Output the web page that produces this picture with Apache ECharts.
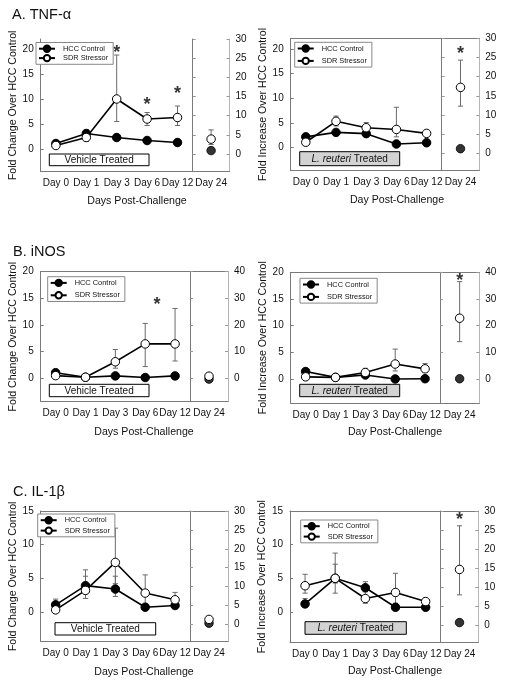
<!DOCTYPE html>
<html><head><meta charset="utf-8">
<script src="https://cdn.jsdelivr.net/npm/echarts@6/dist/echarts.min.js"></script>
<style>html,body{margin:0;padding:0;background:#fff}#c{width:508px;height:687px}</style>
</head><body><div id="c"></div>
<script>
// ---------- categories & tick labels ----------
const mainDays = ['Day 0', 'Day 1', 'Day 3', 'Day 6', 'Day 12'];
const sideDays = ['Day 24'];
const tnfTicksLeft = [0, 5, 10, 15, 20];
const tnfTicksRight = [0, 5, 10, 15, 20, 25, 30];
const inosTicksLeft = [0, 5, 10, 15, 20];
const inosTicksRight = [0, 10, 20, 30, 40];
const il1bTicksLeft = [0, 5, 10, 15];
const il1bTicksRight = [0, 5, 10, 15, 20, 25, 30];

// ---------- A. TNF-α, Vehicle treated ----------
const tnfVehHcc = [1.1, 3.1, 2.3, 1.7, 1.3];
const tnfVehHccErr = [[0.8, 1.4], [2.7, 3.6], [2.0, 2.6], [1.4, 2.0], [1.1, 1.5]];
const tnfVehSdr = [0.7, 2.3, 10.0, 6.0, 6.3];
const tnfVehSdrErr = [[0.4, 1.0], [1.5, 3.8], [5.5, 18.8], [4.7, 7.3], [4.7, 8.6]];
const tnfVehStars = [[2, 20.0], [3, 9.6], [4, 11.8]];
const tnfVehD24Hcc = 0.9;
const tnfVehD24Sdr = 3.9;
const tnfVehD24SdrErr = [2.5, 6.3];
const tnfVehD24Star = null;

// ---------- A. TNF-α, L. reuteri treated ----------
const tnfLrHcc = [2.2, 3.1, 2.85, 0.75, 1.0];
const tnfLrHccErr = [[1.7, 2.8], [2.7, 3.5], [2.4, 3.3], [0.5, 1.0], [0.8, 1.2]];
const tnfLrSdr = [1.1, 5.35, 4.05, 3.7, 2.9];
const tnfLrSdrErr = [[0.8, 1.4], [4.4, 6.4], [3.3, 5.1], [2.2, 8.2], [2.5, 3.3]];
const tnfLrStars = [];
const tnfLrD24Hcc = 1.2;
const tnfLrD24Sdr = 17.2;
const tnfLrD24SdrErr = [12.3, 24.3];
const tnfLrD24Star = 27.0;

// ---------- B. iNOS, Vehicle treated ----------
const inosVehHcc = [1.05, 0.2, 0.45, 0.15, 0.45];
const inosVehHccErr = [[0.8, 1.3], [0.1, 0.3], [0.3, 0.6], [0.05, 0.3], [0.3, 0.6]];
const inosVehSdr = [0.5, 0.2, 3.1, 6.45, 6.45];
const inosVehSdrErr = [[0.3, 0.7], [0.1, 0.3], [1.9, 5.4], [2.2, 10.3], [3.25, 13.1]];
const inosVehStars = [[3, 14.5]];
const inosVehD24Hcc = -0.3;
const inosVehD24Sdr = 0.8;
const inosVehD24SdrErr = null;
const inosVehD24Star = null;

// ---------- B. iNOS, L. reuteri treated ----------
const inosLrHcc = [1.4, 0.3, 0.75, 0.0, 0.05];
const inosLrHccErr = [[1.1, 1.7], [0.2, 0.4], [0.6, 0.9], [-0.1, 0.1], [0.0, 0.1]];
const inosLrSdr = [0.4, 0.3, 1.2, 2.8, 1.9];
const inosLrSdrErr = [[0.3, 0.6], [0.2, 0.4], [0.8, 2.0], [1.5, 5.6], [1.3, 2.9]];
const inosLrStars = [];
const inosLrD24Hcc = 0.1;
const inosLrD24Sdr = 22.8;
const inosLrD24SdrErr = [14.0, 36.5];
const inosLrD24Star = 38.1;

// ---------- C. IL-1β, Vehicle treated ----------
const il1bVehHcc = [1.05, 3.9, 3.4, 0.7, 0.95];
const il1bVehHccErr = [[0.5, 1.9], [2.7, 5.3], [2.3, 5.3], [0.4, 1.0], [0.6, 1.3]];
const il1bVehSdr = [0.3, 3.2, 7.35, 2.8, 1.8];
const il1bVehSdrErr = [[0.1, 1.4], [2.0, 6.25], [4.2, 12.45], [1.2, 5.5], [1.3, 2.9]];
const il1bVehStars = [];
const il1bVehD24Hcc = 0.3;
const il1bVehD24Sdr = 1.3;
const il1bVehD24SdrErr = [0.8, 1.85];
const il1bVehD24Star = null;

// ---------- C. IL-1β, L. reuteri treated ----------
const il1bLrHcc = [1.2, 5.0, 3.6, 0.7, 0.7];
const il1bLrHccErr = [[0.8, 2.0], [4.3, 7.1], [3.0, 4.5], [0.4, 1.0], [0.5, 0.9]];
const il1bLrSdr = [3.9, 5.0, 2.0, 2.9, 1.55];
const il1bLrSdrErr = [[2.8, 5.6], [2.8, 8.75], [1.3, 3.2], [1.3, 5.75], [1.3, 1.8]];
const il1bLrStars = [];
const il1bLrD24Hcc = 0.6;
const il1bLrD24Sdr = 14.6;
const il1bLrD24SdrErr = [7.9, 26.1];
const il1bLrD24Star = 28.6;

// ---------- panel data bindings ----------
const panels = [
  {yName: 'Fold Change Over HCC Control', xTitle: 'Days Post-Challenge', lr: false,
   hcc: tnfVehHcc, hccErr: tnfVehHccErr, sdr: tnfVehSdr, sdrErr: tnfVehSdrErr, stars: tnfVehStars,
   d24Hcc: tnfVehD24Hcc, d24Sdr: tnfVehD24Sdr, d24SdrErr: tnfVehD24SdrErr, d24Star: tnfVehD24Star,
   leftTicks: tnfTicksLeft, rightTicks: tnfTicksRight},
  {yName: 'Fold Increase Over HCC Control', xTitle: 'Day Post-Challenge', lr: true,
   hcc: tnfLrHcc, hccErr: tnfLrHccErr, sdr: tnfLrSdr, sdrErr: tnfLrSdrErr, stars: tnfLrStars,
   d24Hcc: tnfLrD24Hcc, d24Sdr: tnfLrD24Sdr, d24SdrErr: tnfLrD24SdrErr, d24Star: tnfLrD24Star,
   leftTicks: tnfTicksLeft, rightTicks: tnfTicksRight},
  {yName: 'Fold Change Over HCC Control', xTitle: 'Days Post-Challenge', lr: false,
   hcc: inosVehHcc, hccErr: inosVehHccErr, sdr: inosVehSdr, sdrErr: inosVehSdrErr, stars: inosVehStars,
   d24Hcc: inosVehD24Hcc, d24Sdr: inosVehD24Sdr, d24SdrErr: inosVehD24SdrErr, d24Star: inosVehD24Star,
   leftTicks: inosTicksLeft, rightTicks: inosTicksRight},
  {yName: 'Fold Increase Over HCC Control', xTitle: 'Day Post-Challenge', lr: true,
   hcc: inosLrHcc, hccErr: inosLrHccErr, sdr: inosLrSdr, sdrErr: inosLrSdrErr, stars: inosLrStars,
   d24Hcc: inosLrD24Hcc, d24Sdr: inosLrD24Sdr, d24SdrErr: inosLrD24SdrErr, d24Star: inosLrD24Star,
   leftTicks: inosTicksLeft, rightTicks: inosTicksRight},
  {yName: 'Fold Change Over HCC Control', xTitle: 'Days Post-Challenge', lr: false,
   hcc: il1bVehHcc, hccErr: il1bVehHccErr, sdr: il1bVehSdr, sdrErr: il1bVehSdrErr, stars: il1bVehStars,
   d24Hcc: il1bVehD24Hcc, d24Sdr: il1bVehD24Sdr, d24SdrErr: il1bVehD24SdrErr, d24Star: il1bVehD24Star,
   leftTicks: il1bTicksLeft, rightTicks: il1bTicksRight},
  {yName: 'Fold Increase Over HCC Control', xTitle: 'Day Post-Challenge', lr: true,
   hcc: il1bLrHcc, hccErr: il1bLrHccErr, sdr: il1bLrSdr, sdrErr: il1bLrSdrErr, stars: il1bLrStars,
   d24Hcc: il1bLrD24Hcc, d24Sdr: il1bLrD24Sdr, d24SdrErr: il1bLrD24SdrErr, d24Star: il1bLrD24Star,
   leftTicks: il1bTicksLeft, rightTicks: il1bTicksRight}
];

// ---------- layout (pixels / axis extents) ----------
const layouts = [
  {L: 40.7, D: 192.7, R: 229.5, T: 39, B: 171.7, yMin: -4.54, yMax: 22, rMin: -4.6, rMax: 30, top: false,
   leg: [36, 42.5, 1], box: [49.3, 154, 99.7, 11.7], xt: [137, 201], starDx: 0},
  {L: 290.7, D: 441.7, R: 479.3, T: 38.3, B: 170.7, yMin: -4.67, yMax: 22.19, rMin: -4.54, rMax: 30, top: true,
   leg: [294.7, 42.3, 4], box: [299.7, 151.7, 100, 14], xt: [397, 200], starDx: 0},
  {L: 40.7, D: 190, R: 228, T: 271.7, B: 401.7, yMin: -4.39, yMax: 20, rMin: -8.78, rMax: 40, top: true,
   leg: [47.7, 276.7, 4], box: [49.3, 384.3, 99.7, 12.4], xt: [144, 432.3], starDx: 11.7},
  {L: 290.7, D: 440, R: 479.3, T: 272.3, B: 403.3, yMin: -4.56, yMax: 20, rMin: -9.1, rMax: 40, top: true,
   leg: [300, 278.3, 4], box: [299.7, 384.3, 100, 12.4], xt: [395, 432.3], starDx: 0},
  {L: 40.7, D: 190, R: 228, T: 511, B: 641.7, yMin: -4.43, yMax: 15, rMin: -4.6, rMax: 30, top: true,
   leg: [37.7, 514, 2], box: [55, 622.7, 100.7, 12.3], xt: [144, 671.7], starDx: 0},
  {L: 290, D: 440.7, R: 478.3, T: 511, B: 642.3, yMin: -4.5, yMax: 15, rMin: -4.6, rMax: 30, top: true,
   leg: [300.7, 520, 2], box: [305, 621.7, 101.3, 12.6], xt: [395, 670.7], starDx: 0}
];
const panelTitles = [['A. TNF-α', 12, 15], ['B. iNOS', 13, 252], ['C. IL-1β', 13, 491.7]];

const FONT = "'Liberation Sans', Arial, Helvetica, sans-serif";
const AX = '#7a7a7a';
const AXL = '#b5b5b5';
const TXT = '#111';

function errRender(params, api) {
  const lo = api.value(1), hi = api.value(2);
  const pTop = api.coord([api.value(0), hi]);
  const pBot = api.coord([api.value(0), lo]);
  const x = pTop[0], w = 2.6;
  const st = {stroke: '#6a6a6a', lineWidth: 1};
  return {type: 'group', children: [
    {type: 'line', shape: {x1: x, y1: pTop[1], x2: x, y2: pBot[1]}, style: st},
    {type: 'line', shape: {x1: x - w, y1: pTop[1], x2: x + w, y2: pTop[1]}, style: st},
    {type: 'line', shape: {x1: x - w, y1: pBot[1], x2: x + w, y2: pBot[1]}, style: st}
  ]};
}

const grid = [], xAxis = [], yAxis = [], series = [], legend = [], elements = [];
const lbl = {fontFamily: FONT, fontSize: 10, color: TXT};

panels.forEach((p, i) => {
  const g = layouts[i];
  const gm = grid.length; grid.push({left: g.L, top: g.T, width: g.D - g.L, height: g.B - g.T});
  const gs = grid.length; grid.push({left: g.D, top: g.T, width: g.R - g.D, height: g.B - g.T});

  const xm = xAxis.length;
  xAxis.push({type: 'category', gridIndex: gm, data: mainDays, boundaryGap: true,
    axisLine: {show: true, onZero: false, lineStyle: {color: AX, width: 1}}, axisTick: {show: false},
    axisLabel: Object.assign({margin: 7, interval: 0}, lbl), splitLine: {show: false}});
  const xs = xAxis.length;
  xAxis.push({type: 'category', gridIndex: gs, data: sideDays, boundaryGap: true,
    axisLine: {show: true, onZero: false, lineStyle: {color: AX, width: 1}}, axisTick: {show: false},
    axisLabel: Object.assign({margin: 7, interval: 0}, lbl), splitLine: {show: false}});
  if (g.top) {
    xAxis.push({type: 'category', gridIndex: gm, position: 'top', data: mainDays,
      axisLine: {show: true, onZero: false, lineStyle: {color: AX}}, axisTick: {show: false}, axisLabel: {show: false}});
    xAxis.push({type: 'category', gridIndex: gs, position: 'top', data: sideDays,
      axisLine: {show: true, onZero: false, lineStyle: {color: AX}}, axisTick: {show: false}, axisLabel: {show: false}});
  }

  const ym = yAxis.length;
  yAxis.push({type: 'value', gridIndex: gm, position: 'left', min: g.yMin, max: g.yMax,
    splitLine: {show: false},
    axisLine: {show: true, onZero: false, lineStyle: {color: AX}},
    axisTick: {show: true, inside: true, length: 3, customValues: p.leftTicks, lineStyle: {color: AX}},
    axisLabel: Object.assign({customValues: p.leftTicks, margin: 7}, lbl),
    name: p.yName, nameLocation: 'middle', nameRotate: 90, nameGap: 22,
    nameTextStyle: {fontFamily: FONT, fontSize: 10.6, color: TXT}});
  const yr = yAxis.length;
  yAxis.push({type: 'value', gridIndex: gs, position: 'right', min: g.rMin, max: g.rMax,
    splitLine: {show: false},
    axisLine: {show: true, onZero: false, lineStyle: {color: AXL}},
    axisTick: {show: true, inside: true, length: 3, customValues: p.rightTicks, lineStyle: {color: '#999'}},
    axisLabel: Object.assign({customValues: p.rightTicks, margin: 6}, lbl)});
  yAxis.push({type: 'value', gridIndex: gs, position: 'left', min: g.rMin, max: g.rMax,
    splitLine: {show: false},
    axisLine: {show: true, onZero: false, lineStyle: {color: AX}},
    axisTick: {show: true, inside: true, length: 3, customValues: p.rightTicks, lineStyle: {color: '#999'}},
    axisLabel: {show: false}});

  // error bars (main)
  const errData = [];
  p.hccErr.forEach((e, k) => { if (e) errData.push([k, e[0], e[1]]); });
  p.sdrErr.forEach((e, k) => { if (e) errData.push([k, e[0], e[1]]); });
  series.push({type: 'custom', xAxisIndex: xm, yAxisIndex: ym, data: errData, renderItem: errRender, z: 1, silent: true});

  series.push({name: 'HCC Control', type: 'line', xAxisIndex: xm, yAxisIndex: ym, data: p.hcc,
    symbol: 'circle', symbolSize: 8.5, z: 3,
    itemStyle: {color: '#000', borderColor: '#000', borderWidth: 1},
    lineStyle: {color: '#000', width: 1.6}});
  series.push({name: 'SDR Stressor', type: 'line', xAxisIndex: xm, yAxisIndex: ym, data: p.sdr,
    symbol: 'circle', symbolSize: 8.5, z: 4,
    itemStyle: {color: '#fff', borderColor: '#000', borderWidth: 1},
    lineStyle: {color: '#000', width: 1.6}});

  if (p.stars.length) {
    series.push({type: 'scatter', xAxisIndex: xm, yAxisIndex: ym, data: p.stars, symbolSize: 1, z: 5,
      itemStyle: {color: 'rgba(0,0,0,0)'},
      label: {show: true, formatter: '*', position: 'inside', offset: [g.starDx, 4],
        fontFamily: FONT, fontSize: 18, fontWeight: 'bold', color: '#000'}});
  }

  // Day 24 side panel
  if (p.d24SdrErr) {
    series.push({type: 'custom', xAxisIndex: xs, yAxisIndex: yr,
      data: [[0, p.d24SdrErr[0], p.d24SdrErr[1]]], renderItem: errRender, z: 1, silent: true});
  }
  series.push({name: 'HCC Control D24', type: 'scatter', xAxisIndex: xs, yAxisIndex: yr,
    data: [[0, p.d24Hcc]], symbol: 'circle', symbolSize: 8.5, z: 3,
    itemStyle: {color: '#000', borderColor: '#000', borderWidth: 1}});
  series.push({name: 'SDR Stressor D24', type: 'scatter', xAxisIndex: xs, yAxisIndex: yr,
    data: [[0, p.d24Sdr]], symbol: 'circle', symbolSize: 8.5, z: 4,
    itemStyle: {color: '#fff', borderColor: '#000', borderWidth: 1, opacity: 1}});
  if (p.d24Star !== null) {
    series.push({type: 'scatter', xAxisIndex: xs, yAxisIndex: yr, data: [[0, p.d24Star]], symbolSize: 1, z: 5,
      itemStyle: {color: 'rgba(0,0,0,0)'},
      label: {show: true, formatter: '*', position: 'inside', offset: [0, 4],
        fontFamily: FONT, fontSize: 18, fontWeight: 'bold', color: '#000'}});
  }

  legend.push({left: g.leg[0], top: g.leg[1], orient: 'vertical', data: ['HCC Control', 'SDR Stressor'],
    selectedMode: false, itemWidth: 16, itemHeight: 8, itemGap: g.leg[2],
    padding: [2, 5, 2, 2], borderColor: '#888', borderWidth: 1, borderRadius: 0,
    backgroundColor: '#fff', z: 10,
    textStyle: {fontFamily: FONT, fontSize: 7.4, color: TXT, padding: [0, 0, 0, 3]}});

  // treatment box
  const b = g.box;
  elements.push({type: 'rect', shape: {x: b[0], y: b[1], width: b[2], height: b[3]},
    style: {fill: p.lr ? '#d3d3d3' : '#fff', stroke: '#000', lineWidth: 1}, z: 20});
  elements.push({type: 'text', x: b[0] + b[2] / 2, y: b[1] + b[3] / 2 + 0.5, z: 21,
    style: p.lr ?
      {text: '{i|L. reuteri} Treated', font: '10px ' + FONT, fill: TXT,
       rich: {i: {fontStyle: 'italic', fontSize: 10, fontFamily: FONT, fill: TXT, color: TXT}},
       align: 'center', textAlign: 'center', verticalAlign: 'middle', textVerticalAlign: 'middle'} :
      {text: 'Vehicle Treated', font: '10px ' + FONT, fill: TXT,
       align: 'center', textAlign: 'center', verticalAlign: 'middle', textVerticalAlign: 'middle'}});
  // x-axis title
  elements.push({type: 'text', x: g.xt[0], y: g.xt[1], z: 21,
    style: {text: p.xTitle, font: '10.6px ' + FONT, fill: TXT,
      align: 'center', textAlign: 'center', verticalAlign: 'middle', textVerticalAlign: 'middle'}});
});

panelTitles.forEach(t => {
  elements.push({type: 'text', x: t[1], y: t[2], z: 21,
    style: {text: t[0], font: '14.5px ' + FONT, fill: TXT,
      align: 'left', textAlign: 'left', verticalAlign: 'middle', textVerticalAlign: 'middle'}});
});

const chart = echarts.init(document.getElementById('c'), null, {renderer: 'canvas'});
chart.setOption({
  animation: false,
  backgroundColor: '#fff',
  textStyle: {fontFamily: FONT},
  grid, xAxis, yAxis, series, legend,
  graphic: {elements}
});
</script></body></html>
